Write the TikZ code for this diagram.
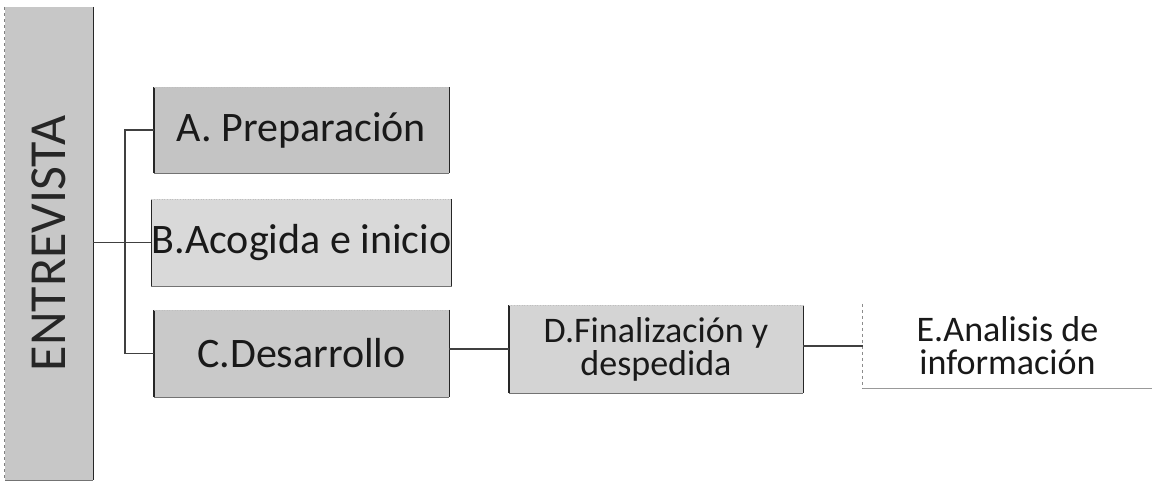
\documentclass[tikz,border=0pt]{standalone}
\usepackage{fontspec}
\setmainfont{Carlito}
\begin{document}
\begin{tikzpicture}[x=1pt,y=-1pt,
  box/.style={rectangle, inner sep=0pt, align=center, text=black!90, font=\fontsize{42}{44}\selectfont},
  smallbox/.style={box, font=\fontsize{36}{33}\selectfont},
  edgedark/.style={draw=black!85, line width=1.4pt},
  edgelight/.style={draw=black!55, line width=1pt},
  edgefaint/.style={draw=black!25, line width=0.6pt, dotted},
  conn/.style={draw=black!75, line width=1.6pt}]
\useasboundingbox (0,0) rectangle (1152,483);
% ENTREVISTA
\node[box, fill=black!22, minimum width=88pt, minimum height=473pt] (ent) at (49,243.5) {};
\node[rotate=90, text=black!85, font=\fontsize{52}{54}\selectfont] (entt) at (ent.center) {ENTREVISTA};
\draw[edgedark] (ent.north east) -- (ent.south east);
\draw[edgelight] (ent.south west) -- (ent.south east);
\draw[draw=black!50, line width=0.7pt, dashed] (ent.north west) -- (ent.south west);
% A, B, C
\node[box, fill=black!23, minimum width=295pt, minimum height=86pt] (a) at (301.5,130) {A. Preparación};
\node[box, fill=black!15, minimum width=295pt, minimum height=87pt] (b) at (301.5,242.5) {B.Acogida e inicio};
\node[box, fill=black!21, minimum width=295pt, minimum height=87pt] (c) at (301.5,353.5) {C.Desarrollo};
\node[smallbox, fill=black!17, minimum width=294pt, minimum height=88pt] (d) at (656,349) {D.Finalización y\\despedida};
\node[smallbox, fill=white, minimum width=289pt, minimum height=84pt] (e) at (1007.5,346) {E.Analisis de\\información};
\foreach \n in {a,b,c,d}{
  \draw[edgedark] (\n.north west) -- (\n.south west);
  \draw[edgedark] (\n.north east) -- (\n.south east);
  \draw[edgelight] (\n.south west) -- (\n.south east);
  \draw[edgefaint] (\n.north west) -- (\n.north east);
}
\draw[draw=black!45, line width=0.7pt, dashed] (e.north west) -- (e.south west);
\draw[draw=black!40, line width=0.8pt] (e.south west) -- (e.south east);
% connectors
\coordinate (bus) at (125,243);
\draw[conn] (ent.east |- b.west) -- (b.west);
\draw[conn] (a.west) -- (a.west -| bus) -- (c.west -| bus) -- (c.west);
\draw[conn] (d.west -| c.east) -- (d.west);
\draw[conn] (e.west -| d.east) -- (e.west);
\end{tikzpicture}
\end{document}
